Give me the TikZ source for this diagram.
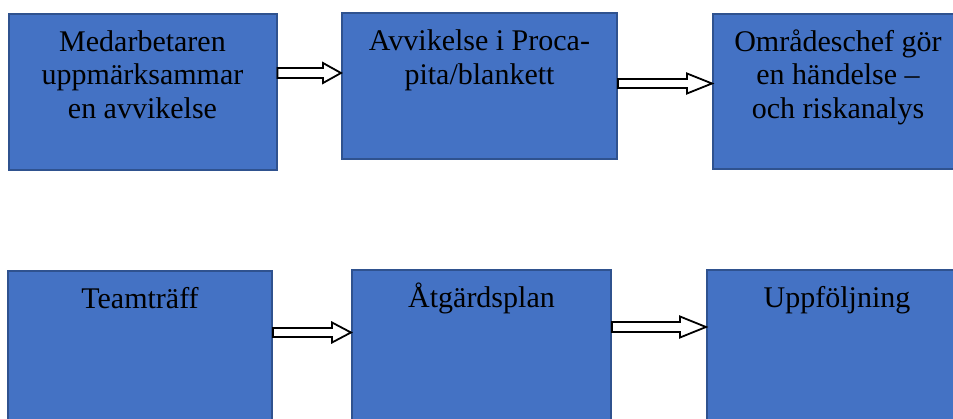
\documentclass[tikz,border=0pt]{standalone}
\usepackage{fontspec}
\setmainfont{Liberation Serif}
\usetikzlibrary{calc}
\definecolor{boxfill}{HTML}{4472C4}
\definecolor{boxline}{HTML}{2F528F}
\tikzset{
  box/.style={draw=boxline, line width=2pt, fill=boxfill, inner sep=0pt, rectangle},
  boxtext/.style={anchor=base, align=center, inner sep=0pt, text=black,
    font=\fontsize{30pt}{33.5pt}\selectfont},
  blockarrow/.style={draw=black, line width=1.8pt, fill=white, line join=miter}
}
\newcommand\blockarr[5]{% start, end, head length, shaft half, head half
  \draw[blockarrow] ($(#1)+(0,-#4)$) -- ($(#2)+(-#3,-#4)$) -- ($(#2)+(-#3,-#5)$) -- (#2)
    -- ($(#2)+(-#3,#5)$) -- ($(#2)+(-#3,#4)$) -- ($(#1)+(0,#4)$) -- cycle;}
\begin{document}
\begin{tikzpicture}[x=1pt,y=-1pt]
\useasboundingbox (0,0) rectangle (953,418);
\clip (0,0) rectangle (953,418);
% boxes
\node[box, minimum width=268pt, minimum height=156pt] (b1) at (142.5,91.5) {};
\node[box, minimum width=275pt, minimum height=146pt] (b2) at (479.5,85.5) {};
\node[box, minimum width=250pt, minimum height=155pt] (b3) at (838,91) {};
\node[box, minimum width=264pt, minimum height=159pt] (b4) at (140,350.5) {};
\node[box, minimum width=259pt, minimum height=160pt] (b5) at (481.5,350) {};
\node[box, minimum width=260pt, minimum height=160pt] (b6) at (837,350) {};
% texts (anchor base = baseline of the last line)
\node[boxtext] (t1) at ($(b1.north)+(0,105.5)$) {Medarbetaren\\uppmärksammar\\en avvikelse};
\node[boxtext] (t2) at ($(b2.north)+(0,72.5)$) {Avvikelse i Proca-\\pita/blankett};
\node[boxtext] (t3) at ($(b3.north)+(0,105.5)$) {Områdeschef gör\\en händelse –\\och riskanalys};
\node[boxtext] (t4) at ($(b4.north)+(0,38.5)$) {Teamträff};
\node[boxtext] (t5) at ($(b5.north)+(0,38.5)$) {Åtgärdsplan};
\node[boxtext] (t6) at ($(b6.north)+(0,38.5)$) {Uppföljning};
% arrow end points
\coordinate (a1s) at (b1.east |- 0,73);
\coordinate (a1e) at (b2.west |- 0,73);
\coordinate (a2s) at (b2.east |- 0,83.5);
\coordinate (a2e) at (b3.west |- 0,83.5);
\coordinate (a3s) at (b4.east |- 0,332.5);
\coordinate (a3e) at (b5.west |- 0,332.5);
\coordinate (a4s) at (b5.east |- 0,327);
\coordinate (a4e) at (b6.west |- 0,327);
\blockarr{a1s}{a1e}{18}{5}{10}
\blockarr{a2s}{a2e}{25}{4.5}{10}
\blockarr{a3s}{a3e}{19}{4.5}{10}
\blockarr{a4s}{a4e}{26}{5}{10.5}
\end{tikzpicture}
\end{document}
